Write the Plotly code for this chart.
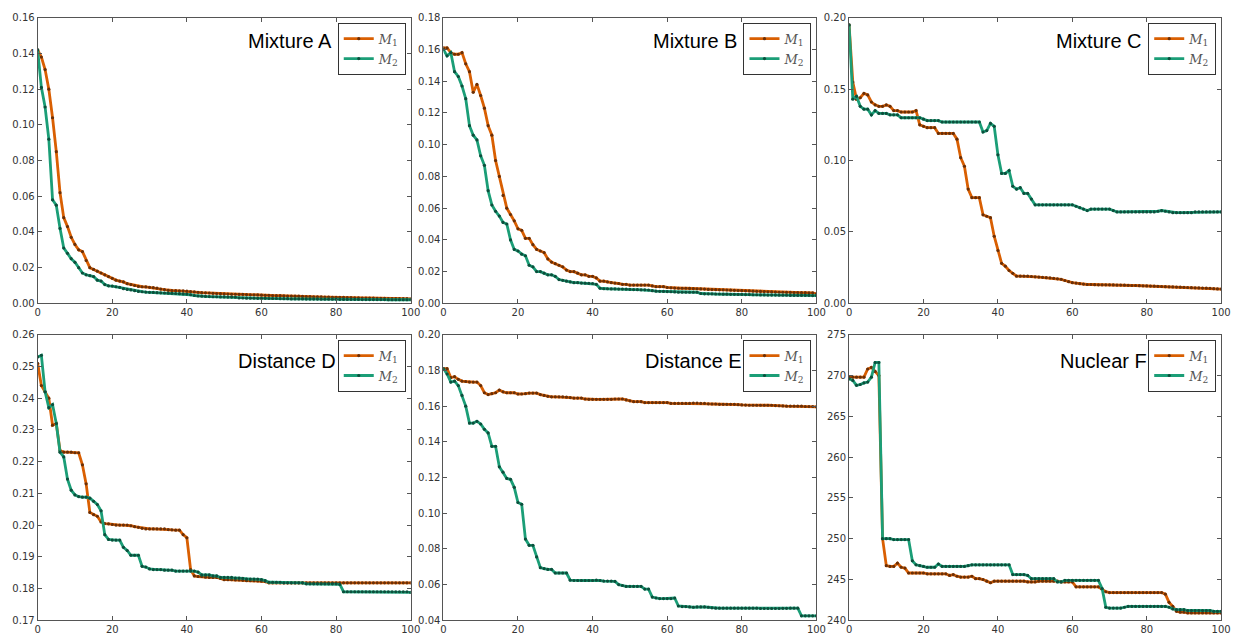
import plotly.graph_objects as go

# ---- data: error per iteration (x = 0..100) for methods M1 and M2 ----
iterations = list(range(101))

mixture_a_m1 = [
    0.142, 0.138, 0.131, 0.120, 0.104, 0.085, 0.062, 0.048, 0.043, 0.037,
    0.033, 0.030, 0.029, 0.024, 0.020, 0.019, 0.018, 0.017, 0.016, 0.015,
    0.014, 0.013, 0.0125, 0.012, 0.011, 0.0105, 0.010, 0.0095, 0.0093, 0.0092,
    0.0090, 0.0088, 0.0085, 0.0080, 0.0077, 0.0073, 0.0072, 0.0071, 0.0070, 0.0070,
    0.0068, 0.0066, 0.0064, 0.0062, 0.0060, 0.0059, 0.0058, 0.0056, 0.0055, 0.0054,
    0.0053, 0.0052, 0.0051, 0.0051, 0.0050, 0.0050, 0.0049, 0.0048, 0.0048, 0.0047,
    0.0046, 0.0045, 0.0045, 0.0044, 0.0043, 0.0043, 0.0042, 0.0041, 0.0041, 0.0040,
    0.0040, 0.0039, 0.0038, 0.0038, 0.0037, 0.0037, 0.0036, 0.0035, 0.0035, 0.0034,
    0.0034, 0.0033, 0.0033, 0.0032, 0.0032, 0.0031, 0.0031, 0.0030, 0.0030, 0.0029,
    0.0029, 0.0028, 0.0028, 0.0028, 0.0027, 0.0027, 0.0027, 0.0026, 0.0026, 0.0026,
    0.0025,
]
mixture_a_m2 = [
    0.142, 0.121, 0.110, 0.092, 0.058, 0.055, 0.042, 0.031, 0.028, 0.025,
    0.023, 0.020, 0.017, 0.016, 0.0155, 0.015, 0.013, 0.0125, 0.0105, 0.0098,
    0.0097, 0.0093, 0.0090, 0.0082, 0.0078, 0.0075, 0.0071, 0.0067, 0.0065, 0.0063,
    0.0062, 0.0061, 0.0060, 0.0059, 0.0058, 0.0057, 0.0056, 0.0055, 0.0054, 0.0053,
    0.0052, 0.0048, 0.0044, 0.0041, 0.0040, 0.0039, 0.0038, 0.0037, 0.0037, 0.0036,
    0.0036, 0.0035, 0.0035, 0.0034, 0.0030, 0.0030, 0.0029, 0.0029, 0.0029, 0.0028,
    0.0028, 0.0028, 0.0027, 0.0027, 0.0027, 0.0026, 0.0026, 0.0026, 0.0025, 0.0025,
    0.0025, 0.0025, 0.0024, 0.0024, 0.0024, 0.0024, 0.0023, 0.0023, 0.0023, 0.0023,
    0.0023, 0.0022, 0.0022, 0.0022, 0.0022, 0.0022, 0.0022, 0.0021, 0.0021, 0.0021,
    0.0021, 0.0021, 0.0021, 0.0021, 0.0020, 0.0020, 0.0020, 0.0020, 0.0020, 0.0020,
    0.0020,
]

mixture_b_m1 = [
    0.161, 0.161, 0.158, 0.157, 0.157, 0.158, 0.151, 0.146, 0.133, 0.138,
    0.131, 0.123, 0.112, 0.106, 0.090, 0.080, 0.068, 0.060, 0.056, 0.052,
    0.047, 0.046, 0.041, 0.041, 0.037, 0.034, 0.033, 0.032, 0.028, 0.026,
    0.025, 0.024, 0.023, 0.021, 0.020, 0.020, 0.019, 0.018, 0.018, 0.017,
    0.017, 0.016, 0.014, 0.014, 0.0135, 0.013, 0.0128, 0.0125, 0.012, 0.012,
    0.0115, 0.0115, 0.0115, 0.0115, 0.0115, 0.0115, 0.011, 0.0105, 0.0105, 0.0105,
    0.010, 0.0098, 0.0096, 0.0095, 0.0095, 0.0095, 0.0094, 0.0093, 0.0092, 0.0091,
    0.0090, 0.0088, 0.0087, 0.0086, 0.0085, 0.0085, 0.0084, 0.0083, 0.0082, 0.0081,
    0.0080, 0.0079, 0.0078, 0.0077, 0.0076, 0.0075, 0.0074, 0.0073, 0.0072, 0.0071,
    0.0070, 0.0070, 0.0069, 0.0069, 0.0068, 0.0068, 0.0067, 0.0067, 0.0066, 0.0066,
    0.0060,
]
mixture_b_m2 = [
    0.160, 0.156, 0.158, 0.146, 0.143, 0.137, 0.129, 0.112, 0.106, 0.103,
    0.093, 0.087, 0.071, 0.062, 0.058, 0.055, 0.051, 0.050, 0.040, 0.034,
    0.033, 0.031, 0.030, 0.024, 0.023, 0.020, 0.020, 0.019, 0.018, 0.018,
    0.017, 0.015, 0.0145, 0.014, 0.0135, 0.013, 0.013, 0.0128, 0.0127, 0.0126,
    0.0125, 0.012, 0.0095, 0.0092, 0.0092, 0.0091, 0.0091, 0.0090, 0.0090, 0.0089,
    0.0088, 0.0087, 0.0086, 0.0085, 0.0085, 0.0084, 0.0080, 0.0077, 0.0076, 0.0075,
    0.0074, 0.0073, 0.0072, 0.0070, 0.0070, 0.0070, 0.0070, 0.0070, 0.0070, 0.0062,
    0.0060, 0.0060, 0.0060, 0.0059, 0.0059, 0.0058, 0.0058, 0.0057, 0.0057, 0.0056,
    0.0056, 0.0055, 0.0055, 0.0054, 0.0054, 0.0053, 0.0053, 0.0052, 0.0052, 0.0052,
    0.0051, 0.0051, 0.0051, 0.0050, 0.0050, 0.0050, 0.0050, 0.0050, 0.0050, 0.0049,
    0.0049,
]

mixture_c_m1 = [
    0.195, 0.155, 0.143, 0.144, 0.147, 0.146, 0.141, 0.139, 0.138, 0.138,
    0.139, 0.138, 0.135, 0.135, 0.134, 0.134, 0.134, 0.134, 0.135, 0.125,
    0.124, 0.123, 0.123, 0.123, 0.119, 0.119, 0.119, 0.119, 0.119, 0.115,
    0.102, 0.096, 0.080, 0.074, 0.074, 0.074, 0.062, 0.061, 0.060, 0.047,
    0.037, 0.028, 0.026, 0.023, 0.021, 0.019, 0.019, 0.019, 0.019, 0.0188,
    0.0186, 0.0184, 0.0182, 0.0180, 0.0178, 0.0175, 0.0172, 0.0168, 0.0160, 0.0152,
    0.0145, 0.0142, 0.0138, 0.0135, 0.0132, 0.0132, 0.0131, 0.0130, 0.0130, 0.0130,
    0.0130, 0.0129, 0.0128, 0.0128, 0.0127, 0.0126, 0.0125, 0.0125, 0.0124, 0.0123,
    0.0122, 0.0121, 0.0120, 0.0119, 0.0118, 0.0117, 0.0116, 0.0115, 0.0114, 0.0113,
    0.0112, 0.0111, 0.0110, 0.0109, 0.0108, 0.0107, 0.0106, 0.0105, 0.0103, 0.0101,
    0.0100,
]
mixture_c_m2 = [
    0.195, 0.143, 0.145, 0.138, 0.136, 0.136, 0.132, 0.135, 0.133, 0.133,
    0.133, 0.132, 0.132, 0.132, 0.130, 0.130, 0.130, 0.130, 0.130, 0.130,
    0.129, 0.128, 0.128, 0.128, 0.128, 0.127, 0.127, 0.127, 0.127, 0.127,
    0.127, 0.127, 0.127, 0.127, 0.127, 0.127, 0.120, 0.121, 0.126, 0.124,
    0.104, 0.091, 0.091, 0.093, 0.082, 0.080, 0.081, 0.077, 0.077, 0.073,
    0.069, 0.069, 0.069, 0.069, 0.069, 0.069, 0.069, 0.069, 0.069, 0.069,
    0.069, 0.068, 0.067, 0.066, 0.065, 0.066, 0.066, 0.066, 0.066, 0.066,
    0.066, 0.065, 0.064, 0.064, 0.064, 0.064, 0.064, 0.064, 0.064, 0.064,
    0.064, 0.064, 0.064, 0.0645, 0.065, 0.0645, 0.064, 0.0635, 0.0635, 0.0635,
    0.0635, 0.0635, 0.0635, 0.064, 0.064, 0.064, 0.064, 0.064, 0.064, 0.064,
    0.064,
]

distance_d_m1 = [
    0.251, 0.244, 0.242, 0.240, 0.2315, 0.232, 0.2235, 0.223, 0.223, 0.223,
    0.2228, 0.2228, 0.219, 0.213, 0.204, 0.2033, 0.2028, 0.201, 0.2005, 0.2004,
    0.2002, 0.2000, 0.2000, 0.2000, 0.2000, 0.1998, 0.1995, 0.1993, 0.1990, 0.1988,
    0.1988, 0.1988, 0.1988, 0.1988, 0.1988, 0.1986, 0.1985, 0.1984, 0.1984, 0.1970,
    0.1960, 0.1860, 0.1840, 0.1838, 0.1838, 0.1836, 0.1835, 0.1835, 0.1835, 0.1832,
    0.1828, 0.1828, 0.1828, 0.1827, 0.1827, 0.1826, 0.1825, 0.1825, 0.1825, 0.1824,
    0.1823, 0.1822, 0.1818, 0.1818, 0.1818, 0.1818, 0.1818, 0.1818, 0.1818, 0.1818,
    0.1818, 0.1818, 0.1818, 0.1818, 0.1818, 0.1818, 0.1818, 0.1818, 0.1818, 0.1818,
    0.1818, 0.1818, 0.1818, 0.1818, 0.1818, 0.1818, 0.1818, 0.1818, 0.1818, 0.1818,
    0.1818, 0.1818, 0.1818, 0.1818, 0.1818, 0.1818, 0.1818, 0.1818, 0.1818, 0.1818,
    0.1818,
]
distance_d_m2 = [
    0.253, 0.2535, 0.242, 0.237, 0.238, 0.232, 0.223, 0.2215, 0.2145, 0.211,
    0.2095, 0.209, 0.2088, 0.2088, 0.2085, 0.2075, 0.2065, 0.2045, 0.197, 0.1955,
    0.1953, 0.1953, 0.1953, 0.193, 0.192, 0.1905, 0.1905, 0.1905, 0.187, 0.1868,
    0.1862, 0.1860, 0.1860, 0.1860, 0.1858, 0.1858, 0.1858, 0.1855, 0.1855, 0.1855,
    0.1855, 0.1855, 0.1855, 0.1852, 0.1843, 0.1843, 0.1843, 0.1840, 0.1840, 0.1835,
    0.1835, 0.1835, 0.1835, 0.1833, 0.1833, 0.1832, 0.1830, 0.1830, 0.1830, 0.1830,
    0.1828, 0.1825, 0.1820, 0.1820, 0.1820, 0.1820, 0.1818, 0.1818, 0.1818, 0.1818,
    0.1818, 0.1818, 0.1815, 0.1815, 0.1815, 0.1815, 0.1815, 0.1815, 0.1815, 0.1815,
    0.1815, 0.1813, 0.1790, 0.1790, 0.1790, 0.1790, 0.1790, 0.1790, 0.1790, 0.1790,
    0.1790, 0.1790, 0.1790, 0.1790, 0.1790, 0.1790, 0.1790, 0.1790, 0.1790, 0.1790,
    0.1788,
]

distance_e_m1 = [
    0.181, 0.181, 0.176, 0.1765, 0.175, 0.174, 0.1738, 0.1735, 0.1735, 0.1735,
    0.1715, 0.1675, 0.1665, 0.167, 0.1675, 0.169, 0.168, 0.1675, 0.1675, 0.1675,
    0.1668, 0.1668, 0.1670, 0.1673, 0.1673, 0.1673, 0.1665, 0.1660, 0.1655, 0.1652,
    0.1652, 0.1652, 0.1652, 0.1650, 0.1648, 0.1645, 0.1645, 0.1645, 0.1640, 0.1638,
    0.1638, 0.1638, 0.1638, 0.1638, 0.1638, 0.1638, 0.1640, 0.1640, 0.1640, 0.1635,
    0.1630, 0.1625, 0.1625, 0.1625, 0.1620, 0.1620, 0.1620, 0.1620, 0.1620, 0.1620,
    0.1620, 0.1615, 0.1615, 0.1615, 0.1615, 0.1615, 0.1615, 0.1617, 0.1617, 0.1615,
    0.1615, 0.1613, 0.1612, 0.1612, 0.1610, 0.1610, 0.1610, 0.1610, 0.1610, 0.1608,
    0.1607, 0.1606, 0.1605, 0.1605, 0.1605, 0.1605, 0.1605, 0.1605, 0.1605, 0.1603,
    0.1602, 0.1601, 0.1600, 0.1600, 0.1600, 0.1600, 0.1600, 0.1598, 0.1598, 0.1598,
    0.1596,
]
distance_e_m2 = [
    0.181, 0.178, 0.1735, 0.174, 0.1715, 0.166, 0.160, 0.1505, 0.1505, 0.1515,
    0.150, 0.147, 0.145, 0.1375, 0.1375, 0.126, 0.123, 0.1195, 0.119, 0.1145,
    0.106, 0.105, 0.0855, 0.082, 0.082, 0.0755, 0.0695, 0.069, 0.0685, 0.0685,
    0.0665, 0.0665, 0.0665, 0.0665, 0.0625, 0.0623, 0.0623, 0.0623, 0.0623, 0.0623,
    0.0623, 0.0625, 0.0623, 0.0620, 0.0620, 0.0620, 0.0618, 0.0600, 0.0595, 0.0590,
    0.0590, 0.0590, 0.0590, 0.0590, 0.0575, 0.0575, 0.0530, 0.0525, 0.0522, 0.0522,
    0.0522, 0.0522, 0.0525, 0.0480, 0.0477, 0.0477, 0.0475, 0.0473, 0.0475, 0.0475,
    0.0475, 0.0473, 0.0470, 0.0468, 0.0468, 0.0468, 0.0468, 0.0468, 0.0468, 0.0468,
    0.0468, 0.0468, 0.0468, 0.0468, 0.0468, 0.0466, 0.0466, 0.0466, 0.0466, 0.0466,
    0.0466, 0.0467, 0.0467, 0.0468, 0.0468, 0.0468, 0.0425, 0.0425, 0.0425, 0.0425,
    0.0425,
]

nuclear_f_m1 = [
    269.8, 269.8, 269.8, 269.8, 269.8, 270.8, 271.0, 270.5, 270.0, 250.0,
    246.7, 246.6, 246.6, 247.0, 246.5, 246.4, 245.8, 245.8, 245.8, 245.8,
    245.8, 245.7, 245.7, 245.7, 245.7, 245.7, 245.7, 245.5, 245.6, 245.4,
    245.3, 245.3, 245.3, 245.4, 245.1, 245.1, 245.0, 244.8, 244.6, 244.8,
    244.8, 244.8, 244.8, 244.8, 244.8, 244.8, 244.8, 244.8, 244.7, 244.7,
    244.7, 244.8, 244.8, 244.8, 244.8, 244.8, 244.8, 244.7, 244.7, 244.7,
    244.7, 244.1, 244.1, 244.1, 244.1, 244.1, 244.1, 244.1, 243.8, 243.5,
    243.4, 243.4, 243.4, 243.4, 243.4, 243.4, 243.4, 243.4, 243.4, 243.4,
    243.4, 243.4, 243.4, 243.4, 243.4, 243.2, 242.2, 241.7, 241.1, 241.0,
    241.0, 240.9, 240.9, 240.9, 240.9, 240.9, 240.9, 240.9, 240.9, 240.9,
    240.9,
]
nuclear_f_m2 = [
    269.6, 269.4, 268.8, 268.9, 269.1, 269.2, 269.8, 271.6, 271.6, 250.0,
    250.0, 250.0, 249.9, 249.9, 249.9, 249.9, 249.9, 247.3, 246.8, 246.7,
    246.6, 246.5, 246.5, 246.5, 246.9, 246.6, 246.6, 246.6, 246.6, 246.6,
    246.6, 246.6, 246.7, 246.8, 246.8, 246.8, 246.8, 246.8, 246.8, 246.8,
    246.8, 246.8, 246.8, 246.8, 245.6, 245.6, 245.6, 245.6, 245.5, 245.1,
    245.1, 245.1, 245.1, 245.1, 245.1, 245.1, 244.7, 244.7, 244.9, 244.9,
    244.9, 244.9, 244.9, 244.9, 244.9, 244.9, 244.9, 244.9, 243.9, 241.6,
    241.5, 241.5, 241.5, 241.5, 241.6, 241.7, 241.7, 241.7, 241.7, 241.7,
    241.7, 241.7, 241.7, 241.7, 241.7, 241.7, 241.6, 241.4, 241.3, 241.3,
    241.3, 241.2, 241.2, 241.2, 241.2, 241.2, 241.2, 241.2, 241.1, 241.1,
    241.1,
]

panel_titles = ["Mixture A", "Mixture B", "Mixture C",
                "Distance D", "Distance E", "Nuclear F"]
panel_series = [
    (mixture_a_m1, mixture_a_m2), (mixture_b_m1, mixture_b_m2),
    (mixture_c_m1, mixture_c_m2), (distance_d_m1, distance_d_m2),
    (distance_e_m1, distance_e_m2), (nuclear_f_m1, nuclear_f_m2),
]
y_ranges = [(0, 0.16), (0, 0.18), (0, 0.20), (0.17, 0.26), (0.04, 0.20), (240, 275)]
y_dticks = [0.02, 0.02, 0.05, 0.01, 0.02, 5]
y_formats = [".2f", ".2f", ".2f", ".2f", ".2f", "d"]
x_ticks = [0, 20, 40, 60, 80, 100]
series_names = ["<i>M</i><sub>1</sub>", "<i>M</i><sub>2</sub>"]

# ---- layout geometry (pixels) ----
W, H = 1247, 642
col_px = [(35, 412), (445, 822), (855, 1231)]
row_px = [(12, 303), (335, 626)]
line_colors = ["#d95f02", "#1b9e77"]
marker_colors = ["#6b2f06", "#0c4f3c"]
axis_grey = "#555555"

fig = go.Figure()
layout_update = {}
annotations = []

for i, (title, series) in enumerate(zip(panel_titles, panel_series)):
    r, c = divmod(i, 3)
    k = i + 1
    xa = "x" if k == 1 else f"x{k}"
    ya = "y" if k == 1 else f"y{k}"
    leg = "legend" if k == 1 else f"legend{k}"
    x0, x1 = col_px[c]
    y0, y1 = row_px[r]
    xdom = [x0 / W, x1 / W]
    ydom = [1 - y1 / H, 1 - y0 / H]

    for j, vals in enumerate(series):
        fig.add_trace(go.Scatter(
            x=iterations, y=vals, mode="lines+markers",
            name=series_names[j],
            line=dict(color=line_colors[j], width=2.8),
            marker=dict(color=marker_colors[j], size=3.2),
            xaxis=xa, yaxis=ya, legend=leg,
        ))

    common = dict(
        showline=True, linecolor=axis_grey, linewidth=1, mirror="ticks",
        ticks="inside", ticklen=4, tickcolor=axis_grey, tickwidth=1,
        showgrid=False, zeroline=False,
        tickfont=dict(family="DejaVu Sans", size=10, color="#333333"),
    )
    layout_update["xaxis" if k == 1 else f"xaxis{k}"] = dict(
        domain=xdom, range=[0, 100], tickvals=x_ticks,
        anchor=ya, **common)
    layout_update["yaxis" if k == 1 else f"yaxis{k}"] = dict(
        domain=ydom, range=list(y_ranges[i]), dtick=y_dticks[i],
        tick0=y_ranges[i][0], tickformat=y_formats[i],
        anchor=xa, **common)

    layout_update[leg] = dict(
        x=(x1 - 5) / W, xanchor="right",
        y=1 - (y0 + 5) / H, yanchor="top",
        bgcolor="white", bordercolor="#333333", borderwidth=1,
        font=dict(family="DejaVu Serif", size=13, color="#555555"),
        itemwidth=30, tracegroupgap=0,
    )

    annotations.append(dict(
        text=title, xref="paper", yref="paper",
        x=(x1 - (78 if r == 0 else 73)) / W, xanchor="right",
        y=1 - (y0 + (24 if r == 0 else 27)) / H, yanchor="middle",
        showarrow=False,
        font=dict(family="Liberation Sans", size=20, color="black"),
    ))

fig.update_layout(
    width=W, height=H,
    margin=dict(l=0, r=0, t=0, b=0),
    paper_bgcolor="white", plot_bgcolor="white",
    showlegend=True,
    annotations=annotations,
    **layout_update,
)

fig.write_html("out.html", config={"displayModeBar": False})
